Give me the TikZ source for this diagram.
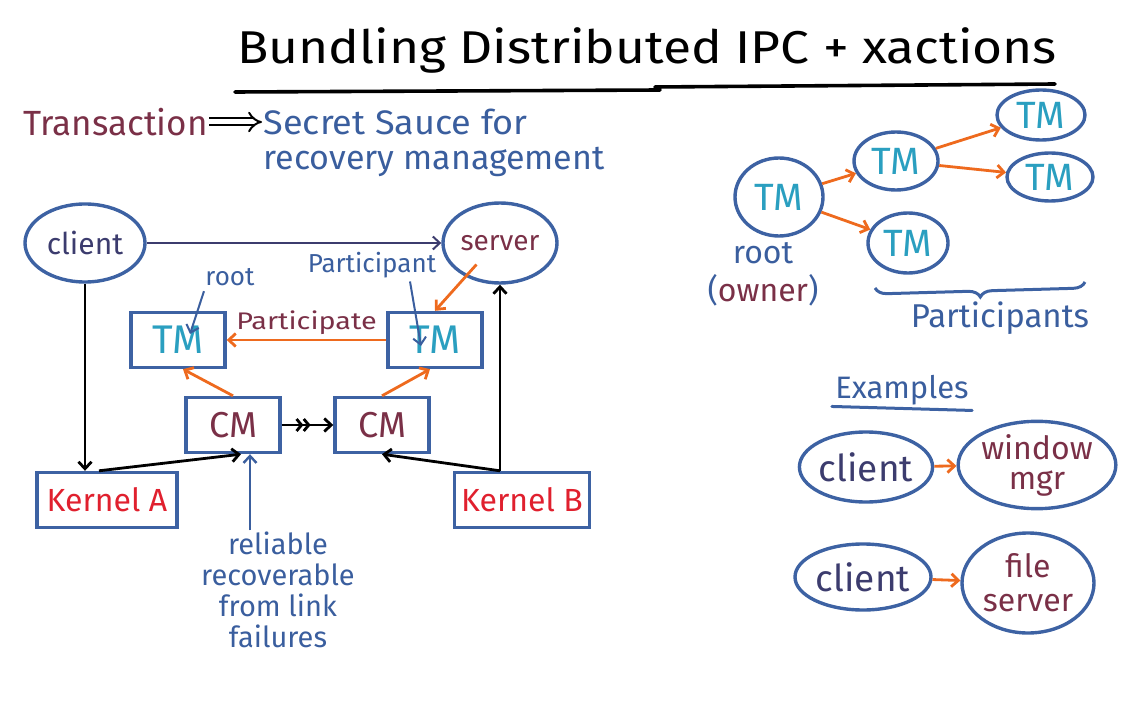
\documentclass[tikz,border=0pt]{standalone}
\usepackage{fontspec}
\setmainfont{Fira Sans}
\usetikzlibrary{arrows.meta,positioning,shapes.geometric,decorations.pathreplacing,decorations.markings}
\definecolor{outl}{HTML}{3D62A3}
\definecolor{inkblue}{HTML}{3A5E9E}
\definecolor{maroon}{HTML}{7A3047}
\definecolor{tmcol}{HTML}{2A9FC0}
\definecolor{kred}{HTML}{E0202E}
\definecolor{orarr}{HTML}{EE6A1E}
\definecolor{cltxt}{HTML}{3C3C6E}
\newcommand{\fsz}[1]{\fontsize{#1}{#1}\selectfont}

\begin{document}
\begin{tikzpicture}[x=1pt,y=-1pt,
  >={Straight Barb[length=7pt,width=13pt]},
  every node/.style={font=\fsz{24}},
  box/.style={draw=outl, line width=3.4pt, minimum width=94, minimum height=55, inner sep=0pt},
  ell/.style={ellipse, draw=outl, line width=3.4pt, inner sep=0pt},
  blk/.style={->, line width=2.8pt},
  orng/.style={->, line width=2.8pt, draw=orarr},
  note/.style={->, line width=2pt, draw=inkblue},
  lbl/.style={text=inkblue, font=\fsz{26}}
]
\useasboundingbox (0,0) rectangle (1127,703);

% title and intro line
\node[font=\fsz{46}] (title) at (647,50) {\scalebox{1.12}[1]{Bundling Distributed IPC + xactions}};
\coordinate (ul1) at (235,92);
\coordinate (ul2) at (660,90);
\coordinate (ul3) at (655,87);
\coordinate (ul4) at (1055,84);
\draw[line width=3.6pt, line cap=round] (ul1) -- (ul2);
\draw[line width=3.6pt, line cap=round] (ul3) -- (ul4);
\node[anchor=west, text=maroon, font=\fsz{35}] (trans) at (20,122) {Transaction};
\node[anchor=west, text=inkblue, font=\fsz{34}] (sauce) at (260,122) {\scalebox{1.06}[1]{Secret Sauce for}};
\node[anchor=west, text=inkblue, font=\fsz{34}] (recov) at (260,162) {recovery management};
\draw[double, double distance=5pt, line width=2pt, -{Implies}] ([xshift=-2]trans.east) -- ([xshift=2]sauce.west);

% left diagram
\node[ell, minimum width=120, minimum height=78, text=cltxt, font=\fsz{30}] (client) at (85,243) {client};
\node[ell, minimum width=114, minimum height=80, text=maroon, font=\fsz{28}] (server) at (500,243) {server};
\node[box, text=tmcol, font=\fsz{40}] (tmA) at (178,340) {TM};
\node[box, text=tmcol, font=\fsz{40}] (tmB) at (435,340) {TM};
\node[box, text=maroon, font=\fsz{36}] (cmA) at (233,425) {CM};
\node[box, text=maroon, font=\fsz{36}] (cmB) at (382,425) {CM};
\node[box, minimum width=140, text=kred, font=\fsz{32}] (kA) at (107,500) {Kernel A};
\node[box, minimum width=135, text=kred, font=\fsz{32}] (kB) at (522,500) {Kernel B};

\draw[->, line width=2pt, draw=cltxt] (client) -- (server);
\draw[blk] (client.south) -- (client.south |- kA.north);
\draw[blk] ([xshift=-8]kA.north) -- ([xshift=8]cmA.south);
\coordinate (kBtop) at (kB.north -| server.south);
\draw[blk] (kBtop) -- (server.south);
\draw[blk] (kBtop) -- (cmB.south);
\draw[blk, postaction={decorate}, decoration={markings,
  mark=at position 0.42 with {\arrow{Straight Barb[length=5pt,width=12pt]}},
  mark=at position 0.56 with {\arrow{Straight Barb[length=5pt,width=12pt]}}}] (cmA) -- (cmB);
\draw[orng] (tmB) -- node[above=1pt, text=maroon, font=\fsz{24}] (partc) {\scalebox{1.2}[1]{Participate}} (tmA);
\draw[orng] (server.south west) ++(18,-8) coordinate (srvo) -- (tmB.north);
\draw[orng] (cmA.north) -- ([xshift=5]tmA.south);
\draw[orng] (cmB.north) -- ([xshift=-5]tmB.south);

\node[lbl] (root) at (230,277) {root};
\coordinate (rootend) at (190,334);
\draw[note] (root.south west) ++(2,2) -- (rootend);
\node[lbl] (partl) at (372,265) {Participant};
\coordinate (partend) at (421,346);
\draw[note] ([xshift=38]partl.south) -- (partend);

\node[lbl, font=\fsz{29}, align=center] (relnote) at (278,590)
  {reliable\\[2pt]recoverable\\[2pt]from link\\[2pt]failures};
\draw[note, line width=2.4pt] (relnote.north -| cmA.south) ++(17,2) coordinate (rn) -- ([xshift=17]cmA.south);

% right: tree of TMs
\node[ell, minimum width=88, minimum height=78, text=tmcol, font=\fsz{38}] (tmroot) at (779,197) {TM};
\node[ell, minimum width=84, minimum height=58, text=tmcol, font=\fsz{38}] (tmmid) at (896,161) {TM};
\node[ell, minimum width=88, minimum height=50, text=tmcol, font=\fsz{38}] (tmt1) at (1041,115) {TM};
\node[ell, minimum width=86, minimum height=48, text=tmcol, font=\fsz{38}] (tmt2) at (1050,177) {TM};
\node[ell, minimum width=80, minimum height=60, text=tmcol, font=\fsz{38}] (tmbot) at (908,243) {TM};
\draw[orng] (tmroot) -- (tmmid);
\draw[orng] (tmmid) -- (tmt1);
\draw[orng] (tmmid) -- (tmt2);
\draw[orng] (tmroot) -- (tmbot);
\node[text=inkblue, font=\fsz{32}] (rootr) at (763,253) {root};
\node[below=4pt of rootr, font=\fsz{32}] (owner) {\textcolor{inkblue}{(}\textcolor{maroon}{owner}\textcolor{inkblue}{)}};
\coordinate (brR) at (1085,282);
\coordinate (brL) at (875,288);
\draw[draw=outl, line width=3pt, decorate, decoration={brace, amplitude=12pt}] (brR) -- (brL);
\node[text=inkblue, font=\fsz{33}] (parts) at (1000,318) {Participants};

% examples
\node[text=inkblue, font=\fsz{31}] (examp) at (902,390) {Examples};
\draw[draw=outl, line width=3pt, line cap=round] ([yshift=2]examp.south west) -- ([yshift=-2]examp.south east);
\node[ell, minimum width=132, minimum height=70, text=cltxt, font=\fsz{37}] (cl1) at (866,467) {client};
\node[ell, minimum width=150, minimum height=84, text=maroon, align=center, font=\fsz{32}] (winmgr) at (1037,465) {window\\[-2pt]mgr};
\node[ell, minimum width=136, minimum height=66, text=cltxt, font=\fsz{37}] (cl2) at (863,577) {client};
\node[ell, minimum width=132, minimum height=100, text=maroon, align=center, font=\fsz{32}] (fsrv) at (1028,583) {file\\[2pt]server};
\draw[orng] (cl1) -- (winmgr);
\draw[orng] (cl2) -- (fsrv);
\end{tikzpicture}
\end{document}
